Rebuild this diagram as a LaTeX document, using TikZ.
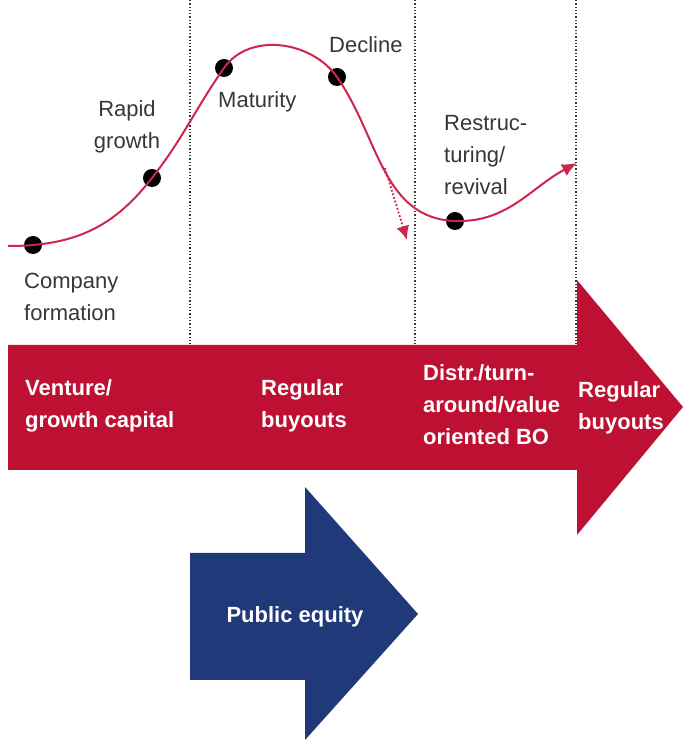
\documentclass[tikz,border=0pt]{standalone}
\usepackage{fontspec}
\setmainfont{Liberation Sans}
\usepackage{tikz}
\usetikzlibrary{arrows.meta,positioning}
\definecolor{cycred}{RGB}{190,16,50}
\definecolor{curvered}{RGB}{204,38,76}
\definecolor{eqblue}{RGB}{31,57,121}
\definecolor{labelgray}{RGB}{55,55,55}
\tikzstyle{phase} = [text=labelgray, font=\fontsize{22}{32}\selectfont, inner sep=0pt, align=left, anchor=west]
\tikzstyle{stage} = [text=white, font=\bfseries\fontsize{22}{32}\selectfont, inner sep=0pt, align=left, anchor=west]
\tikzstyle{dot} = [circle, fill=black, inner sep=0pt, minimum size=18pt]
\tikzstyle{border} = [draw=labelgray, dotted, line width=1.3pt]
\tikzstyle{life} = [draw=curvered, line width=2pt]

\begin{document}
\begin{tikzpicture}[x=1pt,y=1pt]
  \useasboundingbox (0,0) rectangle (683,740);
  % phase borders
  \coordinate (b1top) at (190,740);
  \coordinate (b1bot) at (190,395);
  \coordinate (b2top) at (415,740);
  \coordinate (b2bot) at (415,395);
  \coordinate (b3top) at (576,740);
  \coordinate (b3bot) at (576,395);
  \draw[border] (b1top) -- (b1bot);
  \draw[border] (b2top) -- (b2bot);
  \draw[border] (b3top) -- (b3bot);
  % financing arrows
  \fill[cycred] (8,395) -- (577,395) -- (577,460) -- (683,333) -- (577,205) -- (577,270) -- (8,270) -- cycle;
  \fill[eqblue] (190,187) -- (305,187) -- (305,253) -- (418,126) -- (305,0) -- (305,60) -- (190,60) -- cycle;
  % life cycle curve
  \coordinate (start) at (8,494);
  \node[dot] (formation) at (33,495) {};
  \node[dot] (growth) at (152,562) {};
  \node[dot] (maturity) at (224,672) {};
  \node[dot] (decline) at (337,663) {};
  \node[dot] (revival) at (455,519) {};
  \coordinate (end) at (577,577);
  \draw[life, -{Latex[length=15pt,width=13pt]}] (start) to[out=0,in=185] (formation.center)
    to[out=5,in=-128] (growth.center)
    to[out=52,in=-125] (maturity.center)
    to[out=55,in=125] (decline.center)
    to[out=-55,in=178] (revival.center)
    to[out=-2,in=-152] (end);
  \coordinate (dropfrom) at (385,572);
  \coordinate (dropto) at (407,500);
  \draw[curvered, dotted, line width=1.8pt, -{Latex[length=14pt,width=13pt]}] (dropfrom) -- (dropto);
  % phase labels
  \node[phase] (lformation) at (24,443) {Company\\formation};
  \node[phase, align=center, anchor=center] (lgrowth) at (127,613) {Rapid\\growth};
  \node[phase] (lmaturity) at (218,638) {Maturity};
  \node[phase] (ldecline) at (329,695) {Decline};
  \node[phase] (lrevival) at (444,585) {Restruc-\\turing/\\revival};
  % financing labels
  \node[stage] (venture) at (25,334) {Venture/\\growth capital};
  \node[stage] (buyout) at (261,334) {Regular\\buyouts};
  \node[stage] (distress) at (423,335) {Distr./turn-\\around/value\\oriented BO};
  \node[stage] (buyout2) at (578,332) {Regular\\buyouts};
  \node[stage, anchor=center] (public) at (295,123) {Public equity};
\end{tikzpicture}
\end{document}
